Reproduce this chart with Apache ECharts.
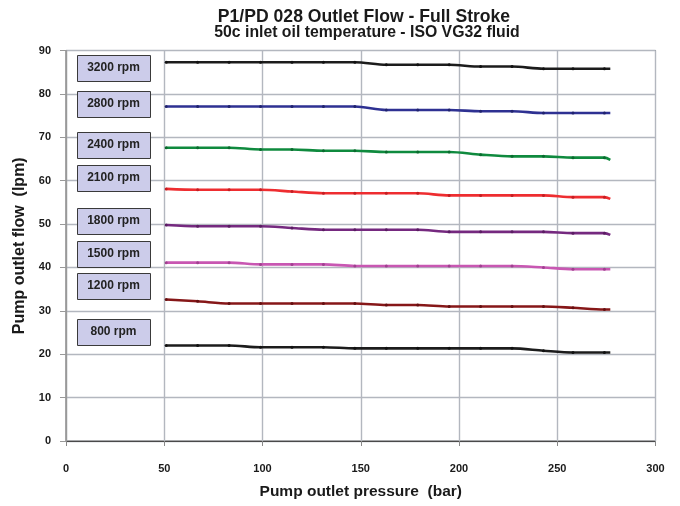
<!DOCTYPE html>
<html>
<head>
<meta charset="utf-8">
<script src="https://cdn.jsdelivr.net/npm/echarts@6/dist/echarts.min.js"></script>
<style>
html,body{margin:0;padding:0;background:#fff;}
#chart{width:680px;height:506px;}
</style>
</head>
<body>
<div id="chart"></div>
<script>
// ---- data ----
const titleText = 'P1/PD 028 Outlet Flow - Full Stroke';
const subtitleText = '50c inlet oil temperature - ISO VG32 fluid';
const xAxisName = 'Pump outlet pressure  (bar)';
const yAxisName = 'Pump outlet flow  (lpm)';
const xTicks = [0, 50, 100, 150, 200, 250, 300];
const yTicks = [0, 10, 20, 30, 40, 50, 60, 70, 80, 90];
const pressure = [51, 67, 83, 99, 115, 131, 147, 163, 179, 195, 211, 227, 243, 258, 274, 277];
const seriesNames = ['3200 rpm', '2800 rpm', '2400 rpm', '2100 rpm', '1800 rpm', '1500 rpm', '1200 rpm', '800 rpm'];
const flow3200 = [87.3, 87.3, 87.3, 87.3, 87.3, 87.3, 87.3, 86.7, 86.7, 86.7, 86.3, 86.3, 85.8, 85.8, 85.8, 85.8];
const flow2800 = [77.1, 77.1, 77.1, 77.1, 77.1, 77.1, 77.1, 76.3, 76.3, 76.3, 76.0, 76.0, 75.6, 75.6, 75.6, 75.6];
const flow2400 = [67.6, 67.6, 67.6, 67.2, 67.2, 66.9, 66.9, 66.6, 66.6, 66.6, 66.0, 65.6, 65.6, 65.3, 65.3, 64.8];
const flow2100 = [58.1, 57.9, 57.9, 57.9, 57.5, 57.1, 57.1, 57.1, 57.1, 56.6, 56.6, 56.6, 56.6, 56.2, 56.2, 55.8];
const flow1800 = [49.8, 49.5, 49.5, 49.5, 49.1, 48.7, 48.7, 48.7, 48.7, 48.2, 48.2, 48.2, 48.2, 47.9, 47.9, 47.5];
const flow1500 = [41.1, 41.1, 41.1, 40.7, 40.7, 40.7, 40.35, 40.35, 40.35, 40.35, 40.35, 40.35, 40.0, 39.6, 39.6, 39.6];
const flow1200 = [32.6, 32.2, 31.7, 31.7, 31.7, 31.7, 31.7, 31.35, 31.35, 31.0, 31.0, 31.0, 31.0, 30.7, 30.3, 30.3];
const flow800  = [22.0, 22.0, 22.0, 21.6, 21.6, 21.6, 21.35, 21.35, 21.35, 21.35, 21.35, 21.35, 20.8, 20.4, 20.4, 20.4];
const flows = [flow3200, flow2800, flow2400, flow2100, flow1800, flow1500, flow1200, flow800];

// ---- styling / layout (not data) ----
const FONT = '"Liberation Sans", Arial, Helvetica, sans-serif';
const lineColors = ['#1c1c1c', '#2e3192', '#0f8a3e', '#ee2d30', '#75297f', '#c857b2', '#861718', '#1c1c1c'];
const dotColors  = ['#111111', '#20236e', '#0a6a2e', '#c41e22', '#5a1d62', '#a04090', '#650f10', '#111111'];
const boxTops = [55, 91, 132, 165, 208, 241, 273, 319];
const boxLeft = 77, boxW = 73, boxH = 26;

const chart = echarts.init(document.getElementById('chart'), null, {renderer: 'canvas'});

const series = seriesNames.map((name, i) => ({
  name: name,
  type: 'line',
  data: pressure.map((p, j) => (j === pressure.length - 1
    ? {value: [p, flows[i][j]], symbol: 'none'}
    : [p, flows[i][j]])),
  smooth: 0.3,
  showAllSymbol: true,
  symbol: 'circle',
  symbolSize: 3,
  lineStyle: {color: lineColors[i], width: 2.6},
  itemStyle: {color: dotColors[i], borderWidth: 0},
  emphasis: {disabled: true},
  z: 3
}));

const graphics = [];
seriesNames.forEach((name, i) => {
  graphics.push({
    type: 'rect',
    left: boxLeft, top: boxTops[i],
    shape: {width: boxW, height: boxH},
    style: {fill: '#ccccea', stroke: '#3a3a3a', lineWidth: 1},
    z: 10
  });
  graphics.push({
    type: 'text',
    x: boxLeft + boxW / 2, y: boxTops[i] + boxH / 2,
    style: {text: name, fill: '#222', font: 'bold 12px ' + FONT, align: 'center', verticalAlign: 'middle'},
    z: 11
  });
});

const option = {
  backgroundColor: '#ffffff',
  animation: false,
  title: [
    {text: titleText, left: 359, top: 3, textAlign: 'center',
     textStyle: {fontFamily: FONT, fontSize: 17.6, fontWeight: 'bold', color: '#1a1a1a'}},
    {text: subtitleText, left: 362, top: 20, textAlign: 'center',
     textStyle: {fontFamily: FONT, fontSize: 15.8, fontWeight: 'bold', color: '#1a1a1a'}}
  ],
  grid: {left: 66, right: 24.5, top: 50.5, bottom: 65, show: true, borderColor: '#444', borderWidth: 1, containLabel: false},
  xAxis: {
    type: 'value', min: xTicks[0], max: xTicks[xTicks.length - 1], interval: 50,
    name: xAxisName, nameLocation: 'middle', nameGap: 43,
    nameTextStyle: {fontFamily: FONT, fontSize: 15.5, fontWeight: 'bold', color: '#1a1a1a'},
    axisLine: {show: true, onZero: false, lineStyle: {color: '#4a4a4a', width: 1.2}},
    axisTick: {show: true, length: 5, lineStyle: {color: '#888'}},
    axisLabel: {margin: 22, fontFamily: FONT, fontSize: 11, fontWeight: 'bold', color: '#1a1a1a'},
    splitLine: {show: true, lineStyle: {color: '#b3b7bf', width: 1.4}}
  },
  yAxis: {
    type: 'value', min: yTicks[0], max: yTicks[yTicks.length - 1], interval: 10,
    name: yAxisName, nameLocation: 'middle', nameGap: 33,
    nameTextStyle: {fontFamily: FONT, fontSize: 16, fontWeight: 'bold', color: '#1a1a1a'},
    axisLine: {show: true, lineStyle: {color: '#999', width: 1.2}},
    axisTick: {show: true, length: 6, lineStyle: {color: '#999'}},
    axisLabel: {margin: 15, fontFamily: FONT, fontSize: 11, fontWeight: 'bold', color: '#1a1a1a'},
    splitLine: {show: true, lineStyle: {color: '#b3b7bf', width: 1.4}}
  },
  series: series,
  graphic: graphics
};
chart.setOption(option);
</script>
</body>
</html>
